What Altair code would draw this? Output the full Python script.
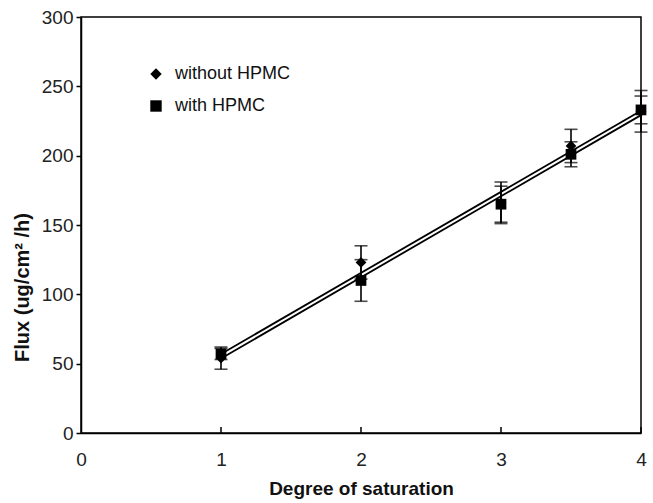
import altair as alt
import pandas as pd

# Data
saturation = [1, 2, 3, 3.5, 4]
flux_without = [54, 123, 166, 207, 232]
err_without = [8, 12, 15, 12, 15]
flux_with = [57, 110, 165, 201, 233]
err_with = [4, 15, 13, 9, 10]
series_names = ["without HPMC", "with HPMC"]
x_ticks = [0, 1, 2, 3, 4]
x_inner_ticks = [1, 2, 3, 4]
y_ticks = [0, 50, 100, 150, 200, 250, 300]

rows = []
for i, xv in enumerate(saturation):
    rows.append({"x": xv, "flux": flux_without[i], "err": err_without[i], "series": series_names[0]})
    rows.append({"x": xv, "flux": flux_with[i], "err": err_with[i], "series": series_names[1]})
df = pd.DataFrame(rows)

W, H = 560, 416
FONT = "Liberation Sans"

xscale = alt.Scale(domain=[0, 4], nice=False, zero=False)
yscale = alt.Scale(domain=[0, 300], nice=False)

x_axis = alt.Axis(values=x_ticks, format="d", tickSize=0, labelPadding=17, title="Degree of saturation",
                  titlePadding=10, grid=False, labelFontSize=19, titleFontSize=19,
                  labelFont=FONT, titleFont=FONT, titleFontWeight="bold",
                  labelColor="#222", titleColor="#111", domainColor="black", domainWidth=1.5,
                  labelFlush=False)
y_axis = alt.Axis(values=y_ticks, tickSize=5, tickWidth=1.5, tickColor="black", labelPadding=3,
                  title="Flux (ug/cm² /h)", titlePadding=9, titleY=270, grid=False, labelFontSize=19,
                  titleFontSize=20, labelFont=FONT, titleFont=FONT, titleFontWeight="bold",
                  labelColor="#222", titleColor="#111", domainColor="black", domainWidth=1.5)

base = alt.Chart(df)

shape_scale = alt.Scale(domain=series_names, range=["diamond", "square"])

lines = base.transform_regression(
    "x", "flux", groupby=["series"], extent=[1, 4]
).mark_line(color="black", strokeWidth=1.8).encode(
    x=alt.X("x:Q", scale=xscale, axis=x_axis),
    y=alt.Y("flux:Q", scale=yscale, axis=y_axis),
    detail="series:N",
)

err_base = base.transform_calculate(
    lo="datum.flux - datum.err", hi="datum.flux + datum.err"
)

err_rules = err_base.mark_rule(color="black", strokeWidth=1.6).encode(
    x=alt.X("x:Q", scale=xscale),
    y=alt.Y("lo:Q", scale=yscale),
    y2="hi:Q",
)
cap_lo = err_base.mark_tick(color="black", thickness=1.6, size=13, orient="horizontal").encode(
    x=alt.X("x:Q", scale=xscale),
    y=alt.Y("lo:Q", scale=yscale),
)
cap_hi = err_base.mark_tick(color="black", thickness=1.6, size=13, orient="horizontal").encode(
    x=alt.X("x:Q", scale=xscale),
    y=alt.Y("hi:Q", scale=yscale),
)

points = base.mark_point(filled=True, color="black", size=115, opacity=1).encode(
    x=alt.X("x:Q", scale=xscale),
    y=alt.Y("flux:Q", scale=yscale),
    shape=alt.Shape("series:N", scale=shape_scale, sort=series_names,
                    legend=alt.Legend(title=None, orient="none", legendX=66, legendY=48,
                                      labelFontSize=18, labelFont=FONT, labelColor="#111",
                                      symbolSize=130, symbolFillColor="black",
                                      symbolStrokeColor="black", rowPadding=14,
                                      labelOffset=10)),
)

tick_df = pd.DataFrame({"x": x_inner_ticks})
inner_ticks = alt.Chart(tick_df).mark_rule(color="black", strokeWidth=1.5).encode(
    x=alt.X("x:Q", scale=xscale),
    y=alt.value(H - 6),
    y2=alt.value(H),
)

chart = alt.layer(lines, err_rules, cap_lo, cap_hi, points, inner_ticks).properties(
    width=W, height=H,
    padding={"left": 81, "top": 17, "right": 12, "bottom": 70},
    autosize=alt.AutoSizeParams(type="none"),
    background="white",
).configure_view(stroke="black", strokeWidth=1.5)

chart.save("out.html", embed_options={"renderer": "svg", "actions": False})
